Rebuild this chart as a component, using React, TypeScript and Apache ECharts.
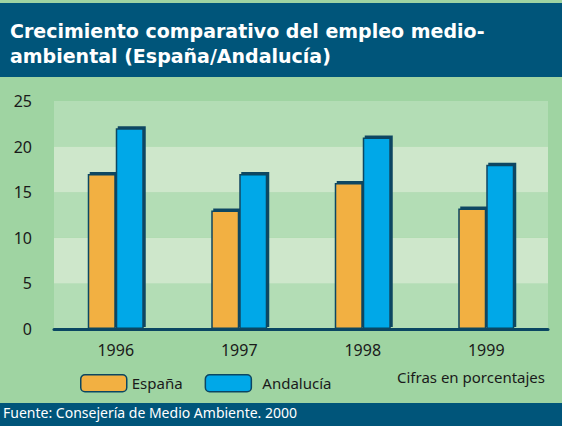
import React, { useEffect, useRef } from "react";
import * as echarts from "echarts";

const years = ["1996", "1997", "1998", "1999"];
const espana = [17, 13, 16, 13.2];
const andalucia = [22, 17, 21, 18];
const yTicks = [0, 5, 10, 15, 20, 25];

const DARK = "#00557a";
const EDGE = "#0b4662";
const BG = "#9fd4a2";
const FONT = "'Noto Sans'";

export default function App() {
  const ref = useRef<HTMLDivElement>(null);
  useEffect(() => {
    if (!ref.current) return;
    const chart = echarts.init(ref.current, null, { renderer: "svg" });
    const barStyle = (color: string) => ({
      color,
      borderColor: EDGE,
      borderWidth: 1.5,
      shadowColor: EDGE,
      shadowBlur: 0,
      shadowOffsetX: 2,
      shadowOffsetY: -2,
    });
    chart.setOption({
      animation: false,
      backgroundColor: BG,
      grid: { left: 54, right: 14, top: 101, bottom: 97 },
      xAxis: {
        type: "category",
        data: years,
        axisTick: { show: false },
        axisLine: { lineStyle: { color: EDGE, width: 3 } },
        axisLabel: { color: "#1a1a1a", fontSize: 16, margin: 13, fontFamily: FONT },
      },
      yAxis: {
        type: "value",
        min: yTicks[0],
        max: yTicks[yTicks.length - 1],
        interval: 5,
        axisLine: { show: false },
        axisTick: { show: false },
        splitLine: { show: false },
        splitArea: { show: true, areaStyle: { color: ["#b3ddb5", "#cee7cb"] } },
        axisLabel: { color: "#1a1a1a", fontSize: 16, margin: 22, fontFamily: FONT },
      },
      legend: {
        left: 75,
        top: 369,
        itemWidth: 46,
        itemHeight: 17,
        itemGap: 22,
        textStyle: { color: "#1a1a1a", fontSize: 15, fontFamily: FONT },
        data: [
          { name: "España", itemStyle: { color: "#f2b042", borderColor: EDGE, borderWidth: 1.5 } },
          { name: "Andalucía", itemStyle: { color: "#00a8e8", borderColor: EDGE, borderWidth: 1.5 }, textStyle: { padding: [0, 0, 0, 6] } },
        ],
      },
      series: [
        {
          name: "España",
          type: "bar",
          data: espana,
          barWidth: 28,
          barGap: "0%",
          itemStyle: barStyle("#f2b042"),
        },
        {
          name: "Andalucía",
          type: "bar",
          data: andalucia,
          barWidth: 28,
          barGap: "0%",
          itemStyle: barStyle("#00a8e8"),
        },
      ],
      graphic: [
        { type: "rect", left: 0, top: 3, shape: { width: 562, height: 74 }, style: { fill: DARK }, z: 0 },
        {
          type: "text",
          left: 10,
          top: 19,
          style: {
            text: "Crecimiento comparativo del empleo medio-",
            fill: "#ffffff",
            font: "bold 19px 'DejaVu Sans'",
            lineHeight: 23,
          },
        },
        {
          type: "text",
          left: 10,
          top: 44,
          style: {
            text: "ambiental (España/Andalucía)",
            fill: "#ffffff",
            font: "bold 19px 'DejaVu Sans'",
            lineHeight: 23,
          },
        },
        { type: "rect", left: 0, top: 403, shape: { width: 562, height: 23 }, style: { fill: DARK } },
        {
          type: "text",
          left: 3,
          top: 405,
          style: { text: "Fuente: Consejería de Medio Ambiente. 2000", fill: "#ffffff", font: "14px 'Noto Sans'" },
        },
        {
          type: "text",
          right: 17,
          top: 369,
          style: { text: "Cifras en porcentajes", fill: "#1a1a1a", font: "15px 'Noto Sans'" },
        },
      ],
    });
    return () => chart.dispose();
  }, []);
  return (
    <div
      ref={ref}
      style={{ position: "fixed", left: 0, top: 0, width: 562, height: 426 }}
    />
  );
}
